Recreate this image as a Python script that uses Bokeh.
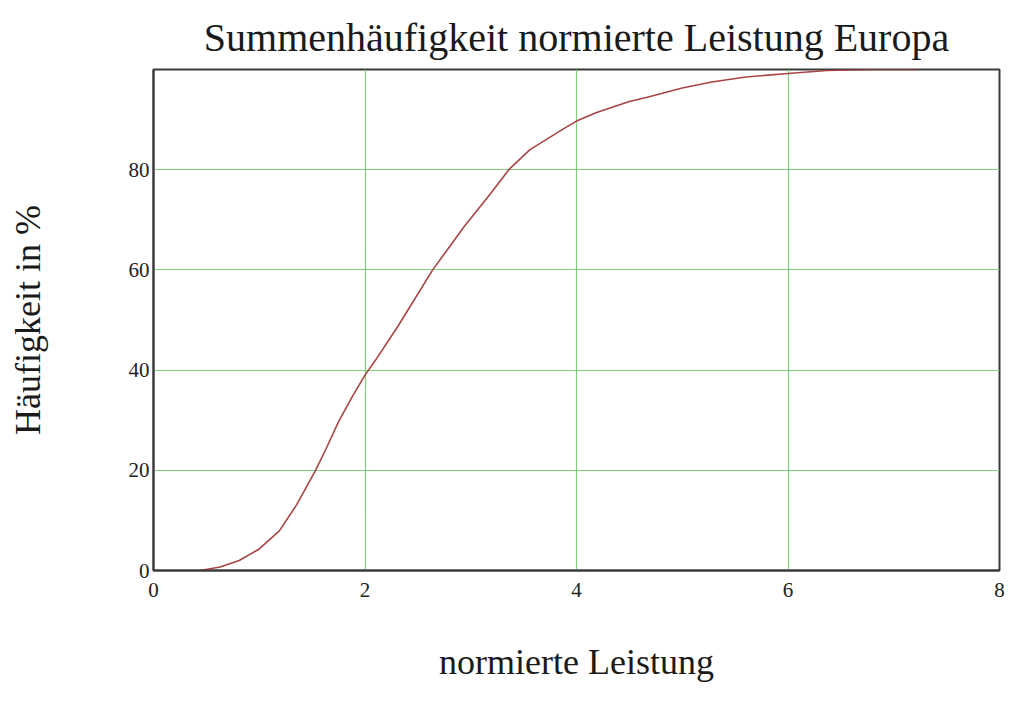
from bokeh.plotting import figure
from bokeh.models import FixedTicker, Range1d
from bokeh.embed import file_html
from bokeh.resources import INLINE

# Data (cumulative frequency of normalised power, Europe)
leistung = [0.44, 0.63, 0.81, 1.0, 1.19, 1.35, 1.53, 1.63, 1.75, 1.88, 2.0, 2.1,
            2.31, 2.64, 2.94, 3.19, 3.36, 3.56, 3.88, 4.0, 4.19, 4.5, 4.66, 5.0,
            5.28, 5.6, 6.0, 6.37, 6.8, 7.23]
haeufigkeit = [0.0, 0.7, 2.0, 4.3, 7.9, 13.0, 19.9, 24.2, 29.7, 34.7, 39.0, 42.0,
               48.7, 60.0, 68.7, 75.3, 80.0, 84.0, 88.2, 89.7, 91.4, 93.6, 94.4, 96.3,
               97.5, 98.5, 99.2, 99.8, 100.0, 100.0]
x_ticks = [0, 2, 4, 6, 8]
y_ticks = [0, 20, 40, 60, 80]

FONT = "Liberation Serif"

p = figure(width=1005, height=691, output_backend="svg", toolbar_location=None,
           x_range=Range1d(0, 8), y_range=Range1d(0, 100),
           min_border_left=153, min_border_right=6, min_border_top=69, min_border_bottom=121)

p.title.text = "Summenhäufigkeit normierte Leistung Europa"
p.title.align = "center"
p.title.text_font = FONT
p.title.text_font_size = "40px"
p.title.text_font_style = "normal"
p.title.text_color = "#1a1a1a"
p.title.standoff = 20

p.line(leistung, haeufigkeit, line_color="#a84444", line_width=1.6)

p.xaxis.ticker = FixedTicker(ticks=x_ticks)
p.yaxis.ticker = FixedTicker(ticks=y_ticks)
p.xgrid.ticker = FixedTicker(ticks=x_ticks)
p.ygrid.ticker = FixedTicker(ticks=y_ticks)

for ax in (p.xaxis, p.yaxis):
    ax.major_tick_line_color = None
    ax.minor_tick_line_color = None
    ax.major_tick_out = 0
    ax.major_tick_in = 0
    ax.minor_tick_out = 0
    ax.minor_tick_in = 0
    ax.axis_line_color = "#3a3a3a"
    ax.axis_line_width = 2
    ax.major_label_text_font = FONT
    ax.major_label_text_font_size = "21px"
    ax.major_label_text_color = "#222222"
    ax.axis_label_text_font = FONT
    ax.axis_label_text_font_size = "36px"
    ax.axis_label_text_font_style = "normal"
    ax.axis_label_text_color = "#1a1a1a"

p.xaxis.major_label_standoff = 12
p.yaxis.major_label_standoff = 4
p.xaxis.axis_label = "normierte Leistung"
p.yaxis.axis_label = "Häufigkeit in %"
p.xaxis.axis_label_standoff = 42
p.yaxis.axis_label_standoff = 78

p.grid.grid_line_color = "#7fcf7f"
p.grid.grid_line_width = 1.2

p.outline_line_color = "#3a3a3a"
p.outline_line_width = 2
p.outline_line_alpha = 1.0

open("out.html", "w").write(file_html(p, INLINE))
